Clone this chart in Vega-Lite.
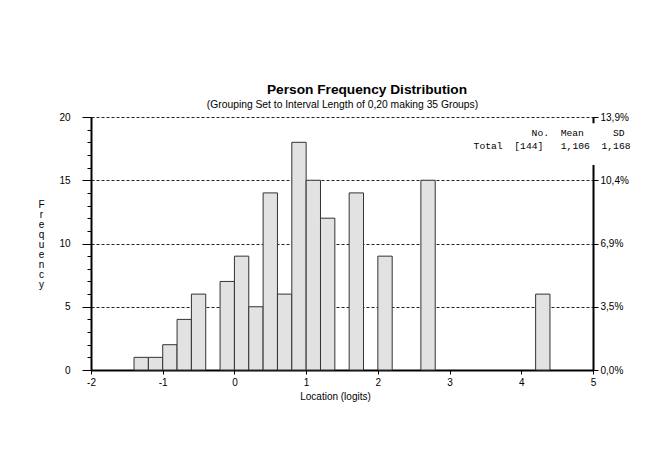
{
  "$schema": "https://vega.github.io/schema/vega-lite/v6.json",
  "width": 502,
  "height": 253,
  "autosize": "none",
  "padding": {"left": 91, "top": 117, "right": 68, "bottom": 82},
  "background": "white",
  "config": {"font": "Liberation Sans", "view": {"stroke": null}},
  "title": {"text": "Person Frequency Distribution", "anchor": "middle", "dx": 25, "fontSize": 13.7, "fontWeight": "bold", "color": "black", "font": "Liberation Sans", "offset": 2},
  "data": {"values": [
    {"bin_start": -1.4, "bin_end": -1.2, "count": 1},
    {"bin_start": -1.2, "bin_end": -1.0, "count": 1},
    {"bin_start": -1.0, "bin_end": -0.8, "count": 2},
    {"bin_start": -0.8, "bin_end": -0.6, "count": 4},
    {"bin_start": -0.6, "bin_end": -0.4, "count": 6},
    {"bin_start": -0.2, "bin_end": 0.0, "count": 7},
    {"bin_start": 0.0, "bin_end": 0.2, "count": 9},
    {"bin_start": 0.2, "bin_end": 0.4, "count": 5},
    {"bin_start": 0.4, "bin_end": 0.6, "count": 14},
    {"bin_start": 0.6, "bin_end": 0.8, "count": 6},
    {"bin_start": 0.8, "bin_end": 1.0, "count": 18},
    {"bin_start": 1.0, "bin_end": 1.2, "count": 15},
    {"bin_start": 1.2, "bin_end": 1.4, "count": 12},
    {"bin_start": 1.6, "bin_end": 1.8, "count": 14},
    {"bin_start": 2.0, "bin_end": 2.2, "count": 9},
    {"bin_start": 2.6, "bin_end": 2.8, "count": 15},
    {"bin_start": 4.2, "bin_end": 4.4, "count": 6}
  ]},
  "layer": [
    {
      "mark": {"type": "bar", "fill": "#e2e2e2", "stroke": "#333333", "strokeWidth": 1},
      "encoding": {
        "x": {"field": "bin_start", "type": "quantitative",
              "scale": {"domain": [-2, 5], "nice": false, "zero": false},
              "axis": {"orient": "bottom", "values": [-2, -1, 0, 1, 2, 3, 4, 5], "labelExpr": "'' + datum.value",
                       "tickSize": 4, "labelPadding": 3, "tickColor": "black", "domainColor": "black", "domainWidth": 2,
                       "labelFontSize": 10, "labelColor": "black", "labelFlush": false, "grid": false,
                       "title": "Location (logits)", "titleFontSize": 10, "titleFontWeight": "normal", "titleColor": "black", "titlePadding": 4, "titleX": 244}},
        "x2": {"field": "bin_end"},
        "y": {"field": "count", "type": "quantitative",
              "scale": {"domain": [0, 20], "nice": false},
              "axis": {"orient": "left", "values": [0,1,2,3,4,5,6,7,8,9,10,11,12,13,14,15,16,17,18,19,20],
                       "labelExpr": "datum.value % 5 === 0 ? datum.label : ''",
                       "tickSize": {"condition": {"test": "datum.value % 5 === 0", "value": 9}, "value": 4},
                       "labelPadding": 12, "tickColor": "black", "domainColor": "black", "domainWidth": 2,
                       "labelFontSize": 10, "labelColor": "black",
                       "grid": true, "gridDash": [3, 2], "gridColor": "#222222",
                       "gridOpacity": {"condition": {"test": "datum.value % 5 === 0 && datum.value > 0", "value": 1}, "value": 0},
                       "title": ["F", "r", "e", "q", "u", "e", "n", "c", "y"], "titleAngle": 0, "titleX": -50, "titleY": 87,
                       "titleAlign": "center", "titleBaseline": "middle", "titleFontSize": 10, "titleFontWeight": "normal",
                       "titleLineHeight": 10, "titleColor": "black"}},
        "y2": {"datum": 0}
      }
    },
    {
      "mark": {"type": "point", "opacity": 0},
      "encoding": {
        "x": {"field": "bin_start", "type": "quantitative",
              "axis": {"orient": "top", "labels": false, "ticks": false, "domain": false, "grid": false,
                       "title": "(Grouping Set to Interval Length of 0,20  making  35  Groups)",
                       "titleFontSize": 10.3, "titleFontWeight": "normal", "titleColor": "black", "titlePadding": 8}},
        "y": {"field": "count", "type": "quantitative",
              "axis": {"orient": "right", "values": [0, 5, 10, 15, 20], "zindex": 0,
                       "labelExpr": "replace(format(datum.value / 144 * 100, '.1f'), '.', ',') + '%'",
                       "tickSize": 5, "labelPadding": 2, "tickColor": "black", "domainColor": "black", "domainWidth": 2,
                       "labelFontSize": 10, "labelColor": "black", "grid": false, "title": null}}
      }
    },
    {
      "data": {"values": [{"kind": "stats"}]},
      "mark": {"type": "rect", "fill": "white", "clip": false},
      "encoding": {
        "x": {"datum": 3.3, "type": "quantitative", "axis": null},
        "x2": {"datum": 5.55},
        "y": {"datum": 19.5, "type": "quantitative", "axis": null},
        "y2": {"datum": 16.2}
      }
    },
    {
      "data": {"values": [{"kind": "stats"}]},
      "mark": {"type": "text", "font": "Liberation Mono", "fontSize": 9.7, "align": "left", "baseline": "middle",
               "dx": -61.4, "dy": 16, "color": "black"},
      "encoding": {
        "x": {"datum": 5, "type": "quantitative", "axis": null},
        "y": {"datum": 20, "type": "quantitative", "axis": null},
        "text": {"value": "No.\u00a0\u00a0Mean\u00a0\u00a0\u00a0\u00a0\u00a0SD"}
      }
    },
    {
      "data": {"values": [{"kind": "stats"}]},
      "mark": {"type": "text", "font": "Liberation Mono", "fontSize": 9.7, "align": "left", "baseline": "middle",
               "dx": -119.4, "dy": 29, "color": "black"},
      "encoding": {
        "x": {"datum": 5, "type": "quantitative", "axis": null},
        "y": {"datum": 20, "type": "quantitative", "axis": null},
        "text": {"value": "Total\u00a0\u00a0[144]\u00a0\u00a0\u00a01,106\u00a0\u00a01,168"}
      }
    }
  ],
  "resolve": {"axis": {"x": "independent", "y": "independent"}}
}
